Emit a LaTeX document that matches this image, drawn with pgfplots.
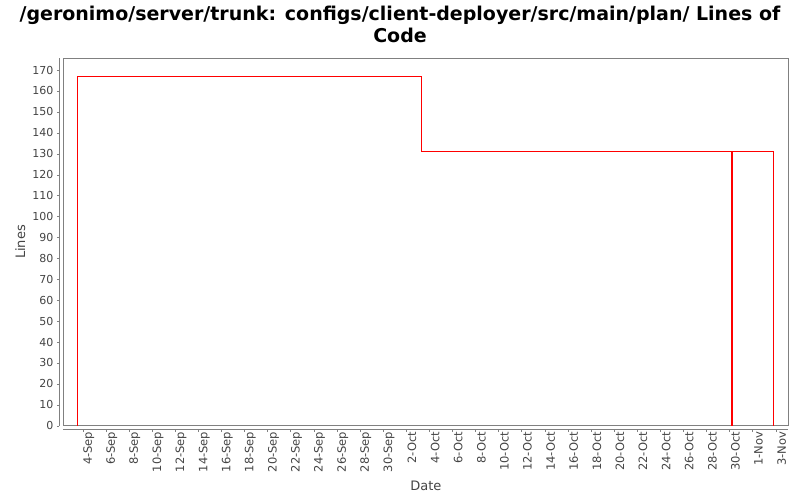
\documentclass[border=0pt]{standalone}
\usepackage{pgfplots}
\pgfplotsset{compat=1.18}
\usepackage{fontspec}
\setmainfont{DejaVu Sans}
\definecolor{tick}{HTML}{444444}
\definecolor{frame}{HTML}{808080}
\begin{document}
\begin{tikzpicture}
\path[fill=white] (0pt,0pt) rectangle (800pt,500pt);
\node[font=\bfseries\fontsize{19}{22}\selectfont, align=center, anchor=north, inner sep=0pt] at (400pt,494pt) {/geronimo/server/trunk: configs/client-deployer/src/main/plan/ Lines of\\Code};
\begin{axis}[
  at={(63.3pt,74.3pt)}, anchor=south west, scale only axis,
  width=725pt, height=367.4pt,
  xmin=-1.68, xmax=61.1, ymin=0, ymax=175.6,
  axis line style={draw=frame},
  xtick=\empty, ytick=\empty,
]
\addplot[red, line width=1pt] coordinates {
  (-0.47,0) (-0.47,167) (29.3,167) (29.3,131) (56.15,131) (56.15,0)
  (56.3,0) (56.3,131) (59.85,131) (59.85,0)
};
\end{axis}
\begin{axis}[
  at={(63.3pt,74.3pt)}, anchor=south west, scale only axis,
  width=725pt, height=367.4pt,
  xmin=-1.68, xmax=61.1, ymin=0, ymax=175.6,
  axis lines=left,
  axis line style={draw=frame, -},
  x axis line style={yshift=-4pt},
  y axis line style={xshift=-4pt},
  xtick style={yshift=-4pt, draw=frame},
  ytick style={xshift=-4pt, draw=frame},
  tick align=outside, major tick length=2.5pt,
  xtick={0,2,...,60},
  xticklabels={4-Sep,6-Sep,8-Sep,10-Sep,12-Sep,14-Sep,16-Sep,18-Sep,20-Sep,22-Sep,24-Sep,26-Sep,28-Sep,30-Sep,2-Oct,4-Oct,6-Oct,8-Oct,10-Oct,12-Oct,14-Oct,16-Oct,18-Oct,20-Oct,22-Oct,24-Oct,26-Oct,28-Oct,30-Oct,1-Nov,3-Nov},
  ytick={0,10,...,170},
  xticklabel style={rotate=90, anchor=east, font=\fontsize{11.5}{13}\selectfont, text=tick, yshift=-6pt},
  yticklabel style={font=\fontsize{11}{13}\selectfont, text=tick, xshift=-4pt},
  /pgf/number format/assume math mode=true,
  xlabel={Date}, ylabel={Lines},
  xlabel style={font=\fontsize{13}{15}\selectfont, text=tick, yshift=-2pt},
  ylabel style={font=\fontsize{13}{15}\selectfont, text=tick},
]
\addplot[draw=none] coordinates {(0,0)};
\end{axis}
\end{tikzpicture}
\end{document}
